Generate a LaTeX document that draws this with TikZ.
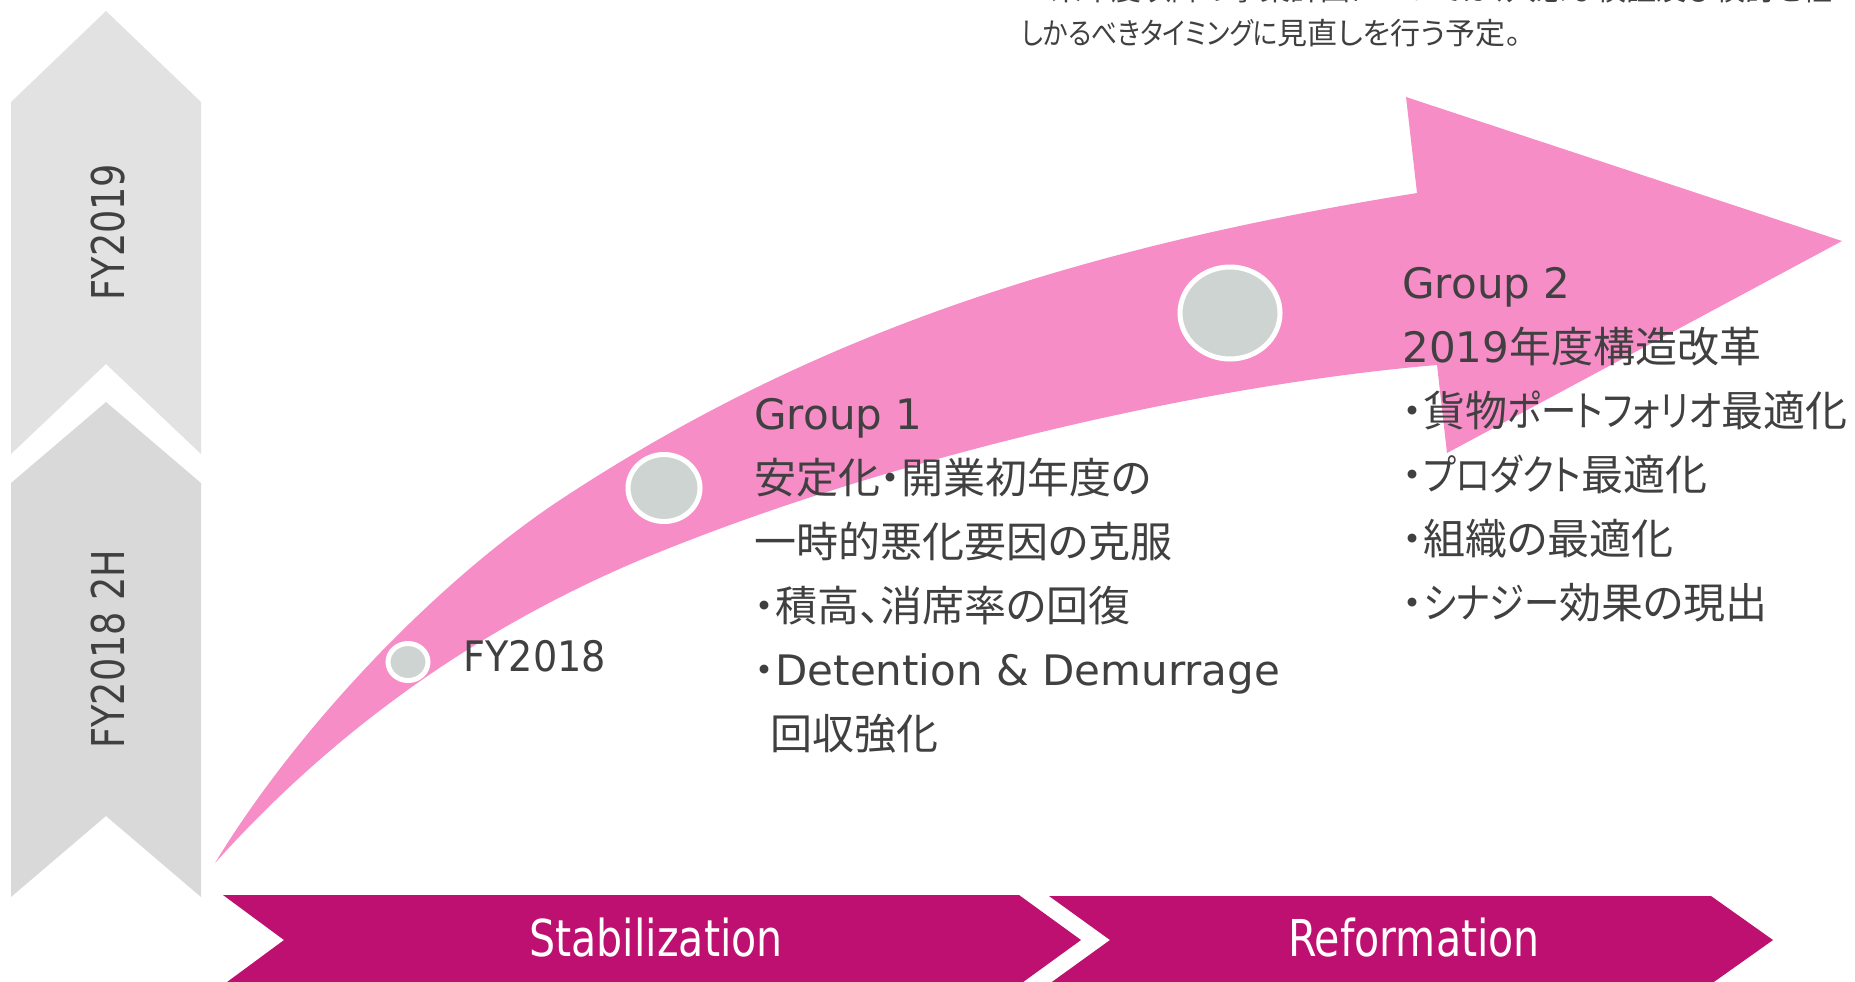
\documentclass[tikz,border=0pt]{standalone}
\usepackage{fontspec}
\usepackage{graphicx}
\setmainfont{DejaVu Sans}
\newfontfamily\jp[CharacterWidth=AlternateProportional]{Noto Sans CJK JP}
\newfontfamily\cond[FakeStretch=0.81]{DejaVu Sans}
\newfontfamily\semi[FakeStretch=0.91]{DejaVu Sans}
\newcommand{\kt}[1]{\scalebox{0.84}[1]{#1}}
\newcommand{\kn}[1]{\scalebox{0.86}[1]{#1}}
\usetikzlibrary{shapes.geometric}
\definecolor{txt}{RGB}{64,64,64}
\definecolor{arrowpink}{RGB}{246,141,199}
\definecolor{magentabar}{RGB}{190,16,112}
\definecolor{chevA}{RGB}{226,226,226}
\definecolor{chevB}{RGB}{217,217,217}
\definecolor{dotgray}{RGB}{206,212,210}
\begin{document}
\begin{tikzpicture}[x=0.5pt,y=-0.5pt,
  lbl/.style={anchor=base west, inner sep=0, text=txt, font=\fontsize{21}{25}\selectfont},
  jlbl/.style={anchor=base west, inner sep=0, text=txt, font=\fontsize{21}{25}\selectfont\jp},
  note/.style={anchor=base west, inner sep=0, text=txt, font=\fontsize{15}{18}\selectfont\jp},
  dot/.style={ellipse, draw=white, line width=2.5pt, fill=dotgray, inner sep=0},
  bartext/.style={anchor=base, inner sep=0, text=white, font=\fontsize{25.4}{30}\selectfont\cond},
  side/.style={anchor=base, rotate=90, inner sep=0, text=txt, font=\fontsize{22.6}{27}\selectfont\cond}
]
\useasboundingbox (0,0) rectangle (1855,981);
\clip (0,0) rectangle (1855,981);

% left chevrons
\fill[chevA] (11,102) -- (106,11) -- (201,102) -- (201,454) -- (106,364) -- (11,454) -- cycle;
\fill[chevB] (11,483) -- (106,402) -- (201,483) -- (201,897) -- (106,816) -- (11,897) -- cycle;
\node[side] (fy19) at (124,232) {FY2019};
\node[side] (fy18h) at (124,649) {FY2018 2H};

% bottom banners
\fill[magentabar] (223,895) -- (1019,895) -- (1081,940) -- (1019,985) -- (223,985) -- (284,940) -- cycle;
\fill[magentabar] (1049,896) -- (1711,896) -- (1773,940) -- (1711,984) -- (1049,984) -- (1110,940) -- cycle;
\node[bartext] (stab) at (656,956) {Stabilization};
\node[bartext] (reform) at (1414,956) {Reformation};

% big curved arrow
\fill[arrowpink] (215,863) .. controls (297,728) and (435,583) .. (560,500)
  .. controls (798,343) and (1055,251) .. (1417,193)
  -- (1406,97) -- (1842,241) -- (1447,453) -- (1437,365)
  .. controls (1200,385) and (880,460) .. (640,560)
  .. controls (470,632) and (330,735) .. (215,863) -- cycle;

% milestones
\node[dot, minimum width=20pt, minimum height=18.5pt] (c1) at (408,662) {};
\node[dot, minimum width=36pt, minimum height=33.5pt] (c2) at (664,488) {};
\node[dot, minimum width=50pt, minimum height=46pt] (c3) at (1230,313) {};

\node[lbl, font=\fontsize{21}{25}\selectfont\semi] (fy2018) at (463,671) {FY2018};

% Group 1
\node[lbl] (g1a) at (754,429) {Group 1};
\node[jlbl] (g1b) at (754,493) {安定化・開業初年度の};
\node[jlbl] (g1c) at (754,557) {一時的悪化要因の克服};
\node[jlbl] (g1d) at (754,621) {・積高、消席率の回復};
\node[jlbl] (g1e) at (754,685) {・{\rmfamily Detention \& Demurrage}};
\node[jlbl] (g1f) at (770,749) {回収強化};

% Group 2
\node[lbl] (g2a) at (1402,298) {Group 2};
\node[jlbl] (g2b) at (1402,362) {{\rmfamily 2019}年度構造改革};
\node[jlbl] (g2c) at (1402,426) {・貨物\kt{ポートフォリオ}最適化};
\node[jlbl] (g2d) at (1402,490) {・\kt{プロダクト}最適化};
\node[jlbl] (g2e) at (1402,554) {・組織の最適化};
\node[jlbl] (g2f) at (1402,618) {・\kt{シナジー}効果の現出};

% top note (partly cut off)
\node[note] (n1) at (1021,0) {※来年度以降の事業計画については、入念な検証及び検討を経};
\node[note] (n2) at (1021,44) {\kn{しかるべきタイミングに}見直しを行う予定。};
\end{tikzpicture}
\end{document}
